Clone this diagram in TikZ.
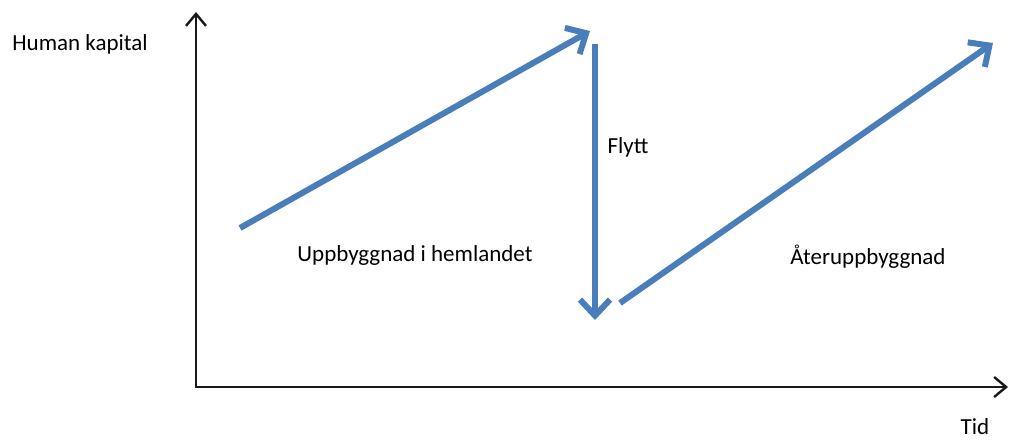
\documentclass[tikz,border=0pt]{standalone}
\usepackage{fontspec}
\setmainfont{Carlito}
\usepackage{tikz}
\usetikzlibrary{arrows.meta}
\definecolor{flowblue}{RGB}{74,126,187}

\begin{document}
\begin{tikzpicture}[
  x=0.5pt,y=-0.5pt,
  axis/.style={line width=1.4pt,black!90,-{Straight Barb[length=6pt,width=10pt,line width=1.2pt]}},
  flow/.style={line width=3pt,flowblue,-{Straight Barb[length=8pt,width=15pt,line width=3pt]}},
  lbl/.style={font=\fontsize{11.5}{13}\selectfont,inner sep=0pt}
]
\useasboundingbox (0,0) rectangle (1013,441);
% axes
\coordinate (origin) at (196,387);
\coordinate (ytop) at (196,12);
\coordinate (xend) at (1008,387);
\draw[axis] (origin) -- (ytop);
\draw[axis] ([xshift=-0.7pt]origin) -- (xend);
\node[lbl,anchor=west] (ylab) at (12,44) {Human kapital};
\node[lbl] (xlab) at (975,427) {Tid};
% path of human capital
\coordinate (homeA) at (240,228);
\coordinate (homeB) at (590,31);
\coordinate (moveA) at (595,44);
\coordinate (moveB) at (595,320);
\coordinate (backA) at (620,303);
\coordinate (backB) at (993,43);
\draw[flow] (homeA) -- (homeB);
\draw[flow] (moveA) -- (moveB);
\draw[flow] (backA) -- (backB);
\node[lbl] (home) at (415,255) {Uppbyggnad i hemlandet};
\node[lbl] (move) at (628,147) {Flytt};
\node[lbl] (back) at (868,257) {Återuppbyggnad};
\end{tikzpicture}
\end{document}
